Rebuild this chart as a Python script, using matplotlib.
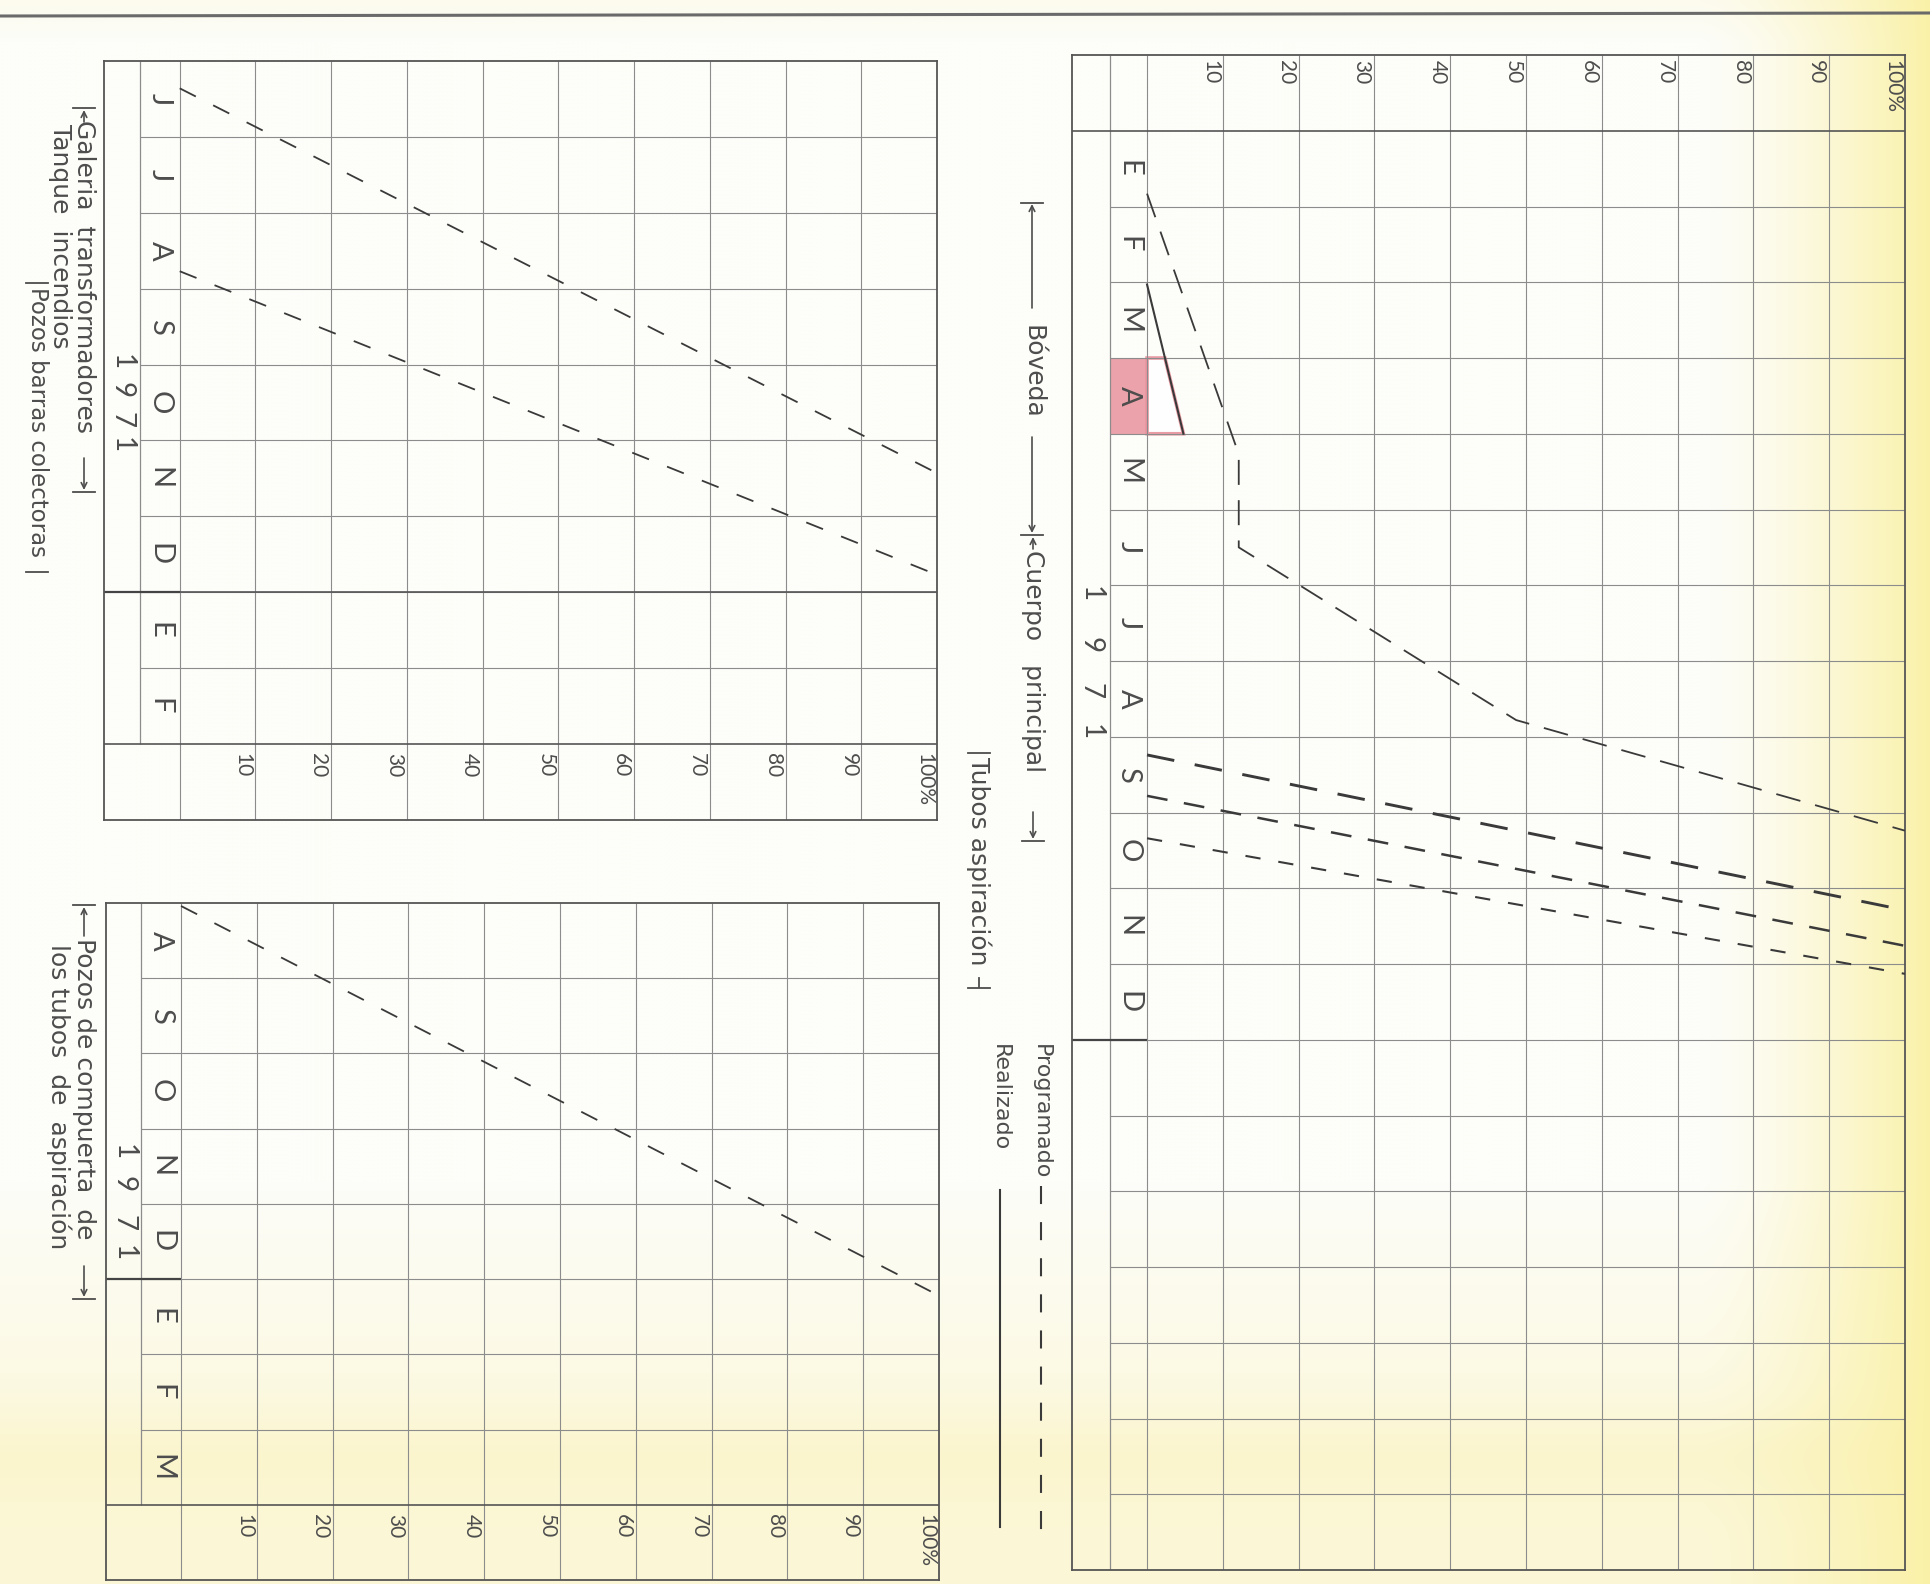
import numpy as np
import matplotlib
matplotlib.use("Agg")
import matplotlib.pyplot as plt
from matplotlib.patches import Polygon, Rectangle

plt.rcParams['font.family'] = ['Lato', 'DejaVu Sans']
plt.rcParams['lines.scale_dashes'] = False

W, H = 1930, 1584
INK = '#3a3a3a'
TXT = '#4d4d4d'
GRID = '#8c8c8c'
PINK = '#e8929c'

# ---------------- data ----------------
pct_grid = [10, 20, 30, 40, 50, 60, 70, 80, 90]
pct_ticks = [10, 20, 30, 40, 50, 60, 70, 80, 90, 100]
pct_labels = ['10', '20', '30', '40', '50', '60', '70', '80', '90', '100%']

months_main = ['E', 'F', 'M', 'A', 'M', 'J', 'J', 'A', 'S', 'O', 'N', 'D']
months_gal = ['J', 'J', 'A', 'S', 'O', 'N', 'D', 'E', 'F']
months_poz = ['A', 'S', 'O', 'N', 'D', 'E', 'F', 'M']
year_digits = ['1', '9', '7', '1']

# main chart: time in months from start of E-1971, value in percent
boveda_prog_t = [0.83, 4.27, 5.50, 7.78, 9.24]
boveda_prog_p = [0, 12.1, 12.1, 48.7, 100]
boveda_real_t = [2.03, 4.00]
boveda_real_p = [0, 4.8]
tubos_a_t = [8.24, 10.29]
tubos_b_t = [8.78, 10.76]
tubos_c_t = [9.34, 11.13]
tubos_p = [0, 100]
highlight_month = 3  # "A" (abril) marked in pink

# galeria / tanque: time from start of J-1971
galeria_t = [0.36, 5.43]
tanque_t = [2.77, 6.77]
gal_p = [0, 100]

# pozos de compuerta: time from start of A-1971
pozos_t = [0.04, 5.22]
pozos_p = [0, 100]


def px_rect(x0, y0, x1, y1):
    return [x0 / W, 1 - y1 / H, (x1 - x0) / W, (y1 - y0) / H]


fig = plt.figure(figsize=(W / 100, H / 100), dpi=100)

# background / annotation layer in pixel units
ov = fig.add_axes([0, 0, 1, 1], zorder=0)
ov.set_xlim(0, W)
ov.set_ylim(H, 0)
ov.axis('off')

gy, gx = np.mgrid[0:H:4, 0:W:4].astype(float)
base = np.array([253, 253, 249]) / 255
yel = np.array([250, 241, 168]) / 255
cream = np.array([251, 245, 205]) / 255
t_right = np.clip((gx - 1700) / 230, 0, 1) ** 1.4
t_bot = np.clip((gy - 1180) / 330, 0, 1) * 0.8
t_band = np.exp(-((gy - 1450) / 45) ** 2) * 0.3
t_top = np.clip((40 - gy) / 40, 0, 1) * 0.25
t_c = np.clip(np.maximum(t_bot, t_top) + t_band, 0, 1)
img = base * (1 - t_c[..., None]) + cream * t_c[..., None]
img = img * (1 - t_right[..., None]) + yel * t_right[..., None]
ov.imshow(img, extent=(0, W, H, 0), interpolation='bilinear', aspect='auto', zorder=0)

# page edge line at the top
ov.plot([0, W], [16, 13], color='#6a6a6a', lw=2.2, zorder=1)


def build_panel(rect, x_left, x_month, nrows, header_at_top, months, year_rows,
                year_pos, year_full_line=False):
    ax = fig.add_axes(px_rect(*rect), zorder=1)
    ax.set_facecolor('none')
    if header_at_top:
        y_top, y_bot = -1, nrows
    else:
        y_top, y_bot = 0, nrows + 1
    ax.set_xlim(x_left, 100)
    ax.set_ylim(y_bot, y_top)
    ax.set_xticks([])
    ax.set_yticks([])
    for s in ax.spines.values():
        s.set_color('#555555')
        s.set_linewidth(1.3)

    # vertical rulings (also through the header row)
    ax.vlines([0] + pct_grid, y_top, y_bot, color=GRID, lw=0.8, zorder=1)
    # boundary between year column and month column
    if header_at_top:
        ax.vlines(x_month, y_top, y_bot, color=GRID, lw=0.9, zorder=1)
    else:
        ax.vlines(x_month, 0, nrows, color=GRID, lw=0.9, zorder=1)
    # row rulings
    ax.hlines(np.arange(1, nrows), x_month, 100, color=GRID, lw=0.8, zorder=1)
    # header line
    y_head = 0 if header_at_top else nrows
    ax.hlines(y_head, x_left, 100, color='#555555', lw=1.2, zorder=2)
    # end of 1971
    ax.hlines(year_rows, x_left, 0, color='#444444', lw=1.6, zorder=2)
    if year_full_line:
        ax.hlines(year_rows, 0, 100, color='#555555', lw=1.2, zorder=2)

    # month letters
    xm = x_month / 2
    for i, m in enumerate(months):
        ax.text(xm, i + 0.5, m, rotation=270, ha='center', va='center',
                fontsize=21, color=TXT, zorder=3)
    # year digits
    xy = (x_left + x_month) / 2
    for d, yp in zip(year_digits, year_pos):
        ax.text(xy, yp, d, rotation=270, ha='center', va='center',
                fontsize=20, color=TXT, zorder=3)
    # percent labels
    y_lab = -0.93 if header_at_top else nrows + 0.12
    for p, lab in zip(pct_ticks, pct_labels):
        ax.text(p - 1.7, y_lab, lab, rotation=270, ha='center', va='top',
                fontsize=15, color=TXT, zorder=3)
    return ax


# ---------------- main chart: Bóveda / Cuerpo principal / Tubos ----------------
ax_m = build_panel((1072, 55, 1905, 1570), -9.9, -4.9, 19, True, months_main, 12,
                   [6.12, 6.79, 7.40, 7.94])
ax_m.add_patch(Rectangle((-4.9, highlight_month), 4.9, 1, facecolor=PINK,
                         edgecolor='none', alpha=0.85, zorder=0.5))
p_top = np.interp(highlight_month, boveda_real_t, boveda_real_p)
p_bot = np.interp(highlight_month + 1, boveda_real_t, boveda_real_p)
ax_m.add_patch(Polygon([(0, highlight_month), (p_top, highlight_month),
                        (p_bot, highlight_month + 1), (0, highlight_month + 1)],
                       closed=True, facecolor='white', edgecolor=PINK, lw=2.6,
                       alpha=0.9, zorder=0.6))
ax_m.plot(boveda_prog_p, boveda_prog_t, color=INK, lw=1.3, dashes=(18, 11), zorder=4)
ax_m.plot(boveda_real_p, boveda_real_t, color=INK, lw=1.5, zorder=4)
ax_m.plot(tubos_p, tubos_a_t, color=INK, lw=2.1, dashes=(20, 15), zorder=4)
ax_m.plot(tubos_p, tubos_b_t, color=INK, lw=1.8, dashes=(15, 12), zorder=4)
ax_m.plot(tubos_p, tubos_c_t, color=INK, lw=1.5, dashes=(11, 13), zorder=4)

# ---------------- Galeria transformadores / Tanque incendios ----------------
ax_g = build_panel((104, 61, 937, 820), -10.0, -5.3, 9, False, months_gal, 7,
                   [3.97, 4.33, 4.73, 5.06], year_full_line=True)
ax_g.plot(gal_p, galeria_t, color=INK, lw=1.3, dashes=(13, 14), zorder=4)
ax_g.plot(gal_p, tanque_t, color=INK, lw=1.3, dashes=(13, 14), zorder=4)

# ---------------- Pozos de compuerta ----------------
ax_p = build_panel((106, 903, 939, 1580), -9.9, -5.3, 8, False, months_poz, 5,
                   [3.31, 3.74, 4.25, 4.66])
ax_p.plot(pozos_p, pozos_t, color=INK, lw=1.3, dashes=(13, 14), zorder=4)


# ---------------- rotated annotations ----------------
def label(x, y, s, size=18, va='top'):
    ov.text(x, y, s, rotation=270, ha='center', va=va, fontsize=size,
            family='DejaVu Sans', color=TXT, zorder=3)


def bar(x, y, half=11):
    ov.plot([x - half, x + half], [y, y], color=TXT, lw=1.3, zorder=3)


def arrow(x, y_from, y_to):
    ov.annotate('', xy=(x, y_to), xytext=(x, y_from),
                arrowprops=dict(arrowstyle='->', color=TXT, lw=1.2,
                                shrinkA=0, shrinkB=0), zorder=3)


# Bóveda
bar(1032, 203)
arrow(1032, 308, 204)
label(1032, 372, 'Bóveda', va='center')
arrow(1032, 437, 533)
bar(1032, 535)
# Cuerpo principal
arrow(1033, 549, 537)
label(1033, 550, 'Cuerpo   principal')
arrow(1033, 812, 839)
bar(1033, 841)
# Tubos aspiración
bar(979, 753)
label(979, 757, 'Tubos aspiración')
ov.plot([979, 979], [978, 987], color=TXT, lw=1.3, zorder=3)
bar(979, 988)

# legend
label(1041, 1044, 'Programado', 16)
ov.plot([1041, 1041], [1186, 1540], color=INK, lw=1.5, dashes=(13, 13), zorder=3)
label(1000, 1044, 'Realizado', 16)
ov.plot([1000, 1000], [1190, 1527], color=INK, lw=1.5, zorder=3)

# left captions
bar(84, 108)
arrow(84, 122, 110)
label(84, 120, 'Galeria  transformadores')
arrow(84, 458, 490)
bar(84, 492)
label(60, 124, 'Tanque  incendios')
bar(37, 283)
label(37, 287, 'Pozos barras colectoras', 16.5)
bar(37, 572)

bar(84, 905)
arrow(84, 936, 907)
label(84, 938, 'Pozos de compuerta  de')
arrow(84, 1266, 1297)
bar(84, 1299)
label(59, 944, 'los tubos  de  aspiración')

fig.savefig('out.png', dpi=100)
